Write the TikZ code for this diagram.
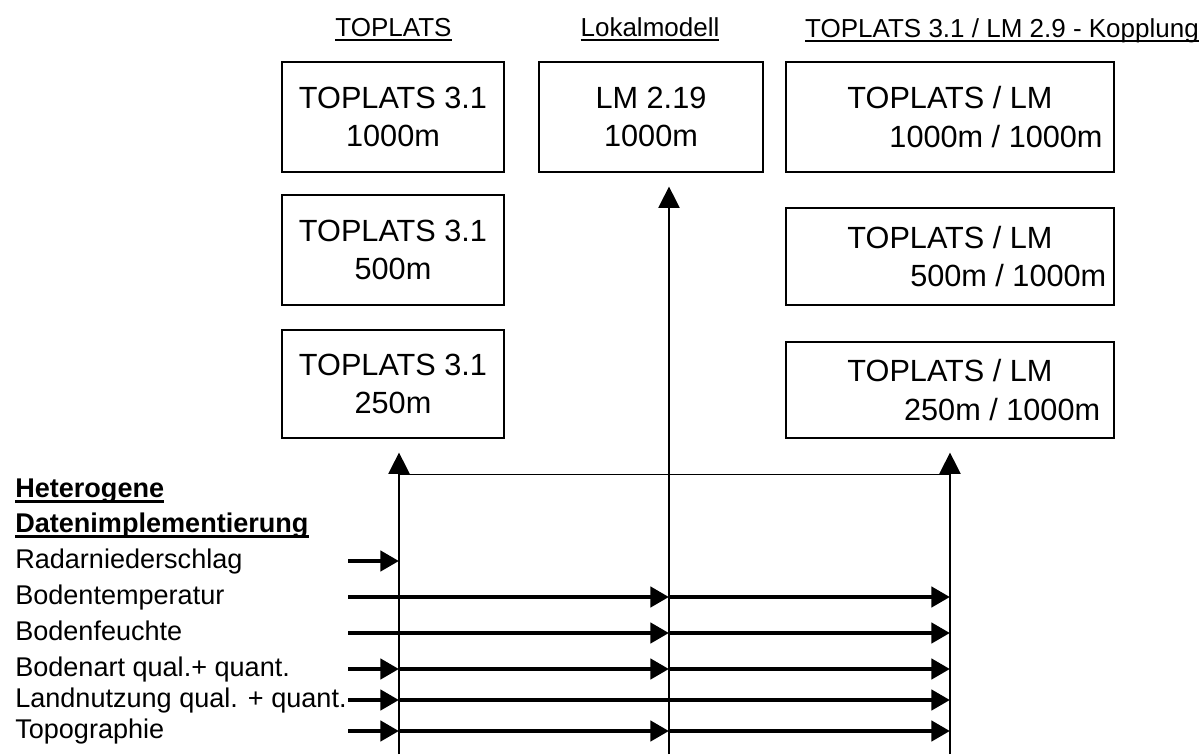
\documentclass[tikz,border=0pt]{standalone}
\usepackage{fontspec}
\setmainfont{Liberation Sans}
\usetikzlibrary{arrows.meta}

% underlined text with a rule at a fixed distance under the baseline
\newcommand{\uln}[2][1.2pt]{\setbox0\hbox{#2}\rlap{\rule[\dimexpr-2.4pt-#1\relax]{\wd0}{#1}}\box0}

\begin{document}
\begin{tikzpicture}[x=0.75pt,y=-0.75pt,
      modelbox/.style={draw,rectangle,line width=0.9pt,inner sep=2pt,align=center,
        font=\fontsize{23pt}{29pt}\selectfont},
      headtxt/.style={anchor=base,inner sep=0pt,font=\fontsize{19.5pt}{24pt}\selectfont},
      itemtxt/.style={anchor=base west,inner sep=0pt,font=\fontsize{20.3pt}{24pt}\selectfont},
      feedarrow/.style={line width=3.4pt,-{Triangle[length=14pt,width=15pt]}},
      busline/.style={line width=0.9pt},
      busarrow/.style={busline,-{Triangle[length=16pt,width=16pt]},shorten >=10.5pt}]
  \useasboundingbox (0,0) rectangle (1204,754);

  % column headings
  \node[headtxt] (hdTop) at (393.5,36) {\uln{TOPLATS}};
  \node[headtxt] (hdLm) at (650,36) {\uln{Lokalmodell}};
  \node[headtxt] (hdCpl) at (1002,37) {\uln{TOPLATS 3.1 / LM 2.9 - Kopplung}};

  % model runs
  \node[modelbox,minimum width=166.5pt,minimum height=82.5pt] (t1000) at (393,117) {TOPLATS 3.1\\1000m};
  \node[modelbox,minimum width=166.5pt,minimum height=82.5pt] (t500) at (393,250) {TOPLATS 3.1\\500m};
  \node[modelbox,minimum width=166.5pt,minimum height=81pt] (t250) at (393,384) {TOPLATS 3.1\\250m};
  \node[modelbox,minimum width=168pt,minimum height=82.5pt] (lm) at (651,117) {LM 2.19\\1000m};
  \node[modelbox,minimum width=246pt,minimum height=82.5pt] (c1000) at (950,117)
    {TOPLATS / LM\\\hspace*{3em}1000m / 1000m};
  \node[modelbox,minimum width=246pt,minimum height=72.75pt] (c500) at (950,256.5)
    {TOPLATS / LM\\\hspace*{3.8em}500m / 1000m};
  \node[modelbox,minimum width=246pt,minimum height=72pt] (c250) at (950,390)
    {TOPLATS / LM\\\hspace*{3.4em}250m / 1000m};

  % data list
  \node[itemtxt,font=\fontsize{20.3pt}{24pt}\bfseries] (hdData1) at (15,497) {\uln[2pt]{Heterogene}};
  \node[itemtxt,font=\fontsize{20.3pt}{24pt}\bfseries] (hdData2) at (15,532) {\uln[2pt]{Datenimplementierung}};
  \node[itemtxt] (lbl1) at (15,568) {Radarniederschlag};
  \node[itemtxt] (lbl2) at (15,604) {Bodentemperatur};
  \node[itemtxt] (lbl3) at (15,640) {Bodenfeuchte};
  \node[itemtxt] (lbl4) at (15,676) {Bodenart qual.+ quant.};
  \node[itemtxt] (lbl5) at (15,707) {Landnutzung qual. + quant.};
  \node[itemtxt] (lbl6) at (15,738) {Topographie};

  \coordinate (r1) at (348,561);
  \coordinate (r2) at (348,597);
  \coordinate (r3) at (348,633);
  \coordinate (r4) at (348,669);
  \coordinate (r5) at (348,700);
  \coordinate (r6) at (348,731);

  % vertical feeds into the models
  \coordinate (busL) at (399,754);
  \coordinate (busM) at (669,754);
  \coordinate (busR) at (950,754);
  \coordinate (hub) at (399,474.5);
  \draw[busarrow] (busL) -- (busL |- t250.south);
  \draw[busarrow] (busM) -- (busM |- lm.south);
  \draw[busarrow] (busR) -- (busR |- c250.south);
  \draw[busline] (hub) -- (hub -| busR);

  % data streams
  \draw[feedarrow] (r1) -- (r1 -| busL);
  \draw[feedarrow] (r2) -- (r2 -| busM);
  \draw[feedarrow] (r2 -| busM) -- (r2 -| busR);
  \draw[feedarrow] (r3) -- (r3 -| busM);
  \draw[feedarrow] (r3 -| busM) -- (r3 -| busR);
  \draw[feedarrow] (r4) -- (r4 -| busL);
  \draw[feedarrow] (r4 -| busL) -- (r4 -| busM);
  \draw[feedarrow] (r4 -| busM) -- (r4 -| busR);
  \draw[feedarrow] (r5) -- (r5 -| busL);
  \draw[feedarrow] (r5 -| busL) -- (r5 -| busR);
  \draw[feedarrow] (r6) -- (r6 -| busL);
  \draw[feedarrow] (r6 -| busL) -- (r6 -| busM);
  \draw[feedarrow] (r6 -| busM) -- (r6 -| busR);
\end{tikzpicture}
\end{document}
